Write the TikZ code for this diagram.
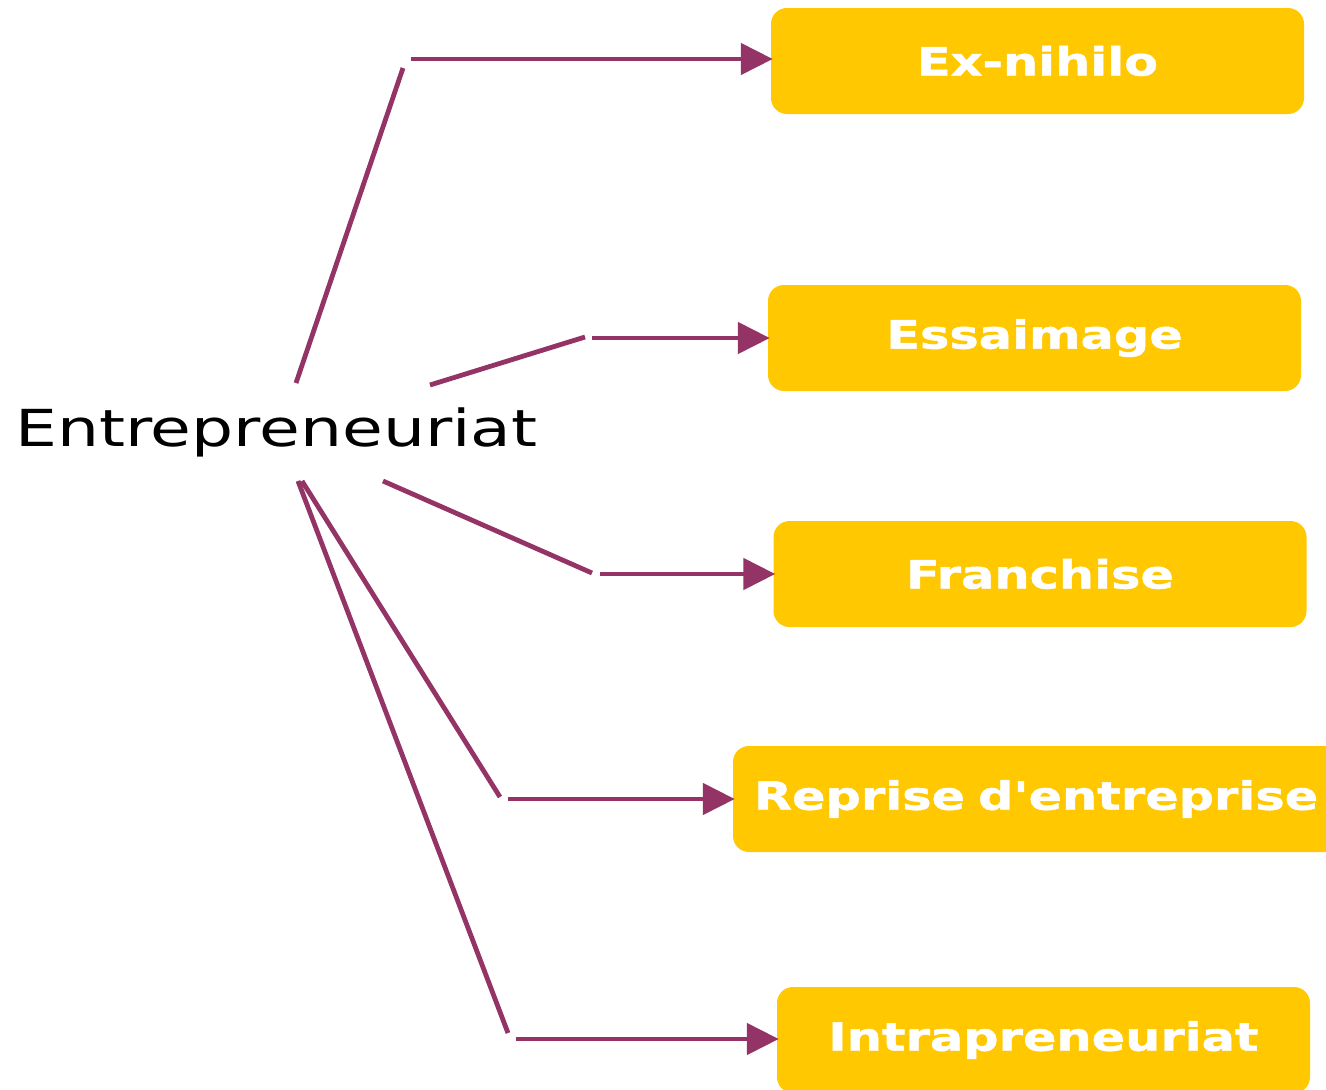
\documentclass[tikz,border=0pt]{standalone}
\usepackage{fontspec}
\setmainfont{DejaVu Sans}
\newfontfamily\rootfont{DejaVu Sans}[FakeStretch=1.3]
\newfontfamily\boxfont{DejaVu Sans Bold}[FakeStretch=1.27,FakeBold=1.2]
\usetikzlibrary{arrows.meta}
\definecolor{linkcol}{HTML}{943466}
\definecolor{boxcol}{HTML}{FFC800}
\begin{document}
\begin{tikzpicture}[x=1pt,y=-1pt,
  leaf/.style={fill=boxcol, rounded corners=16pt, minimum width=533pt, minimum height=106pt,
    inner sep=0pt, text=white, font=\boxfont\fontsize{38.9}{46}\selectfont},
  link/.style={draw=linkcol, line width=4.8pt},
  linkarrow/.style={link, -{Triangle[length=32pt,width=31pt]}, shorten >=-2pt}
]
\clip (0,0) rectangle (1326,1090);
\fill[white] (0,0) rectangle (1326,1090);

\node[anchor=base west, inner sep=0pt, font=\rootfont\fontsize{51}{60}\selectfont] (root) at (15,446) {Entrepreneuriat};

\node[leaf] (a) at (1037.5,61) {Ex-nihilo};
\node[leaf] (b) at (1034.5,338) {Essaimage};
\node[leaf] (c) at (1040,574) {Franchise};
\node[leaf, minimum width=640pt, text width=600pt, align=left] (d) at (1053,799) {\hspace*{1pt}Reprise d'entreprise};
\node[leaf] (e) at (1043.5,1040) {Intrapreneuriat};

% start points near the root text
\coordinate (s1) at (296,383);
\coordinate (s2) at (430,385);
\coordinate (s3) at (383,481);
\coordinate (s4) at (302,481);
\coordinate (s5) at (298,481);
% bend points
\coordinate (k1) at (403,68);  \coordinate (h1) at (411,59);
\coordinate (k2) at (585,337); \coordinate (h2) at (592,338);
\coordinate (k3) at (592,573); \coordinate (h3) at (600,574);
\coordinate (k4) at (500,797); \coordinate (h4) at (508,799);
\coordinate (k5) at (508,1033);\coordinate (h5) at (516,1039);

\draw[link] (s1) -- (k1);
\draw[linkarrow] (h1) -- (h1 -| a.west);
\draw[link] (s2) -- (k2);
\draw[linkarrow] (h2) -- (h2 -| b.west);
\draw[link] (s3) -- (k3);
\draw[linkarrow] (h3) -- (h3 -| c.west);
\draw[link] (s4) -- (k4);
\draw[linkarrow] (h4) -- (h4 -| d.west);
\draw[link] (s5) -- (k5);
\draw[linkarrow] (h5) -- (h5 -| e.west);
\end{tikzpicture}
\end{document}
